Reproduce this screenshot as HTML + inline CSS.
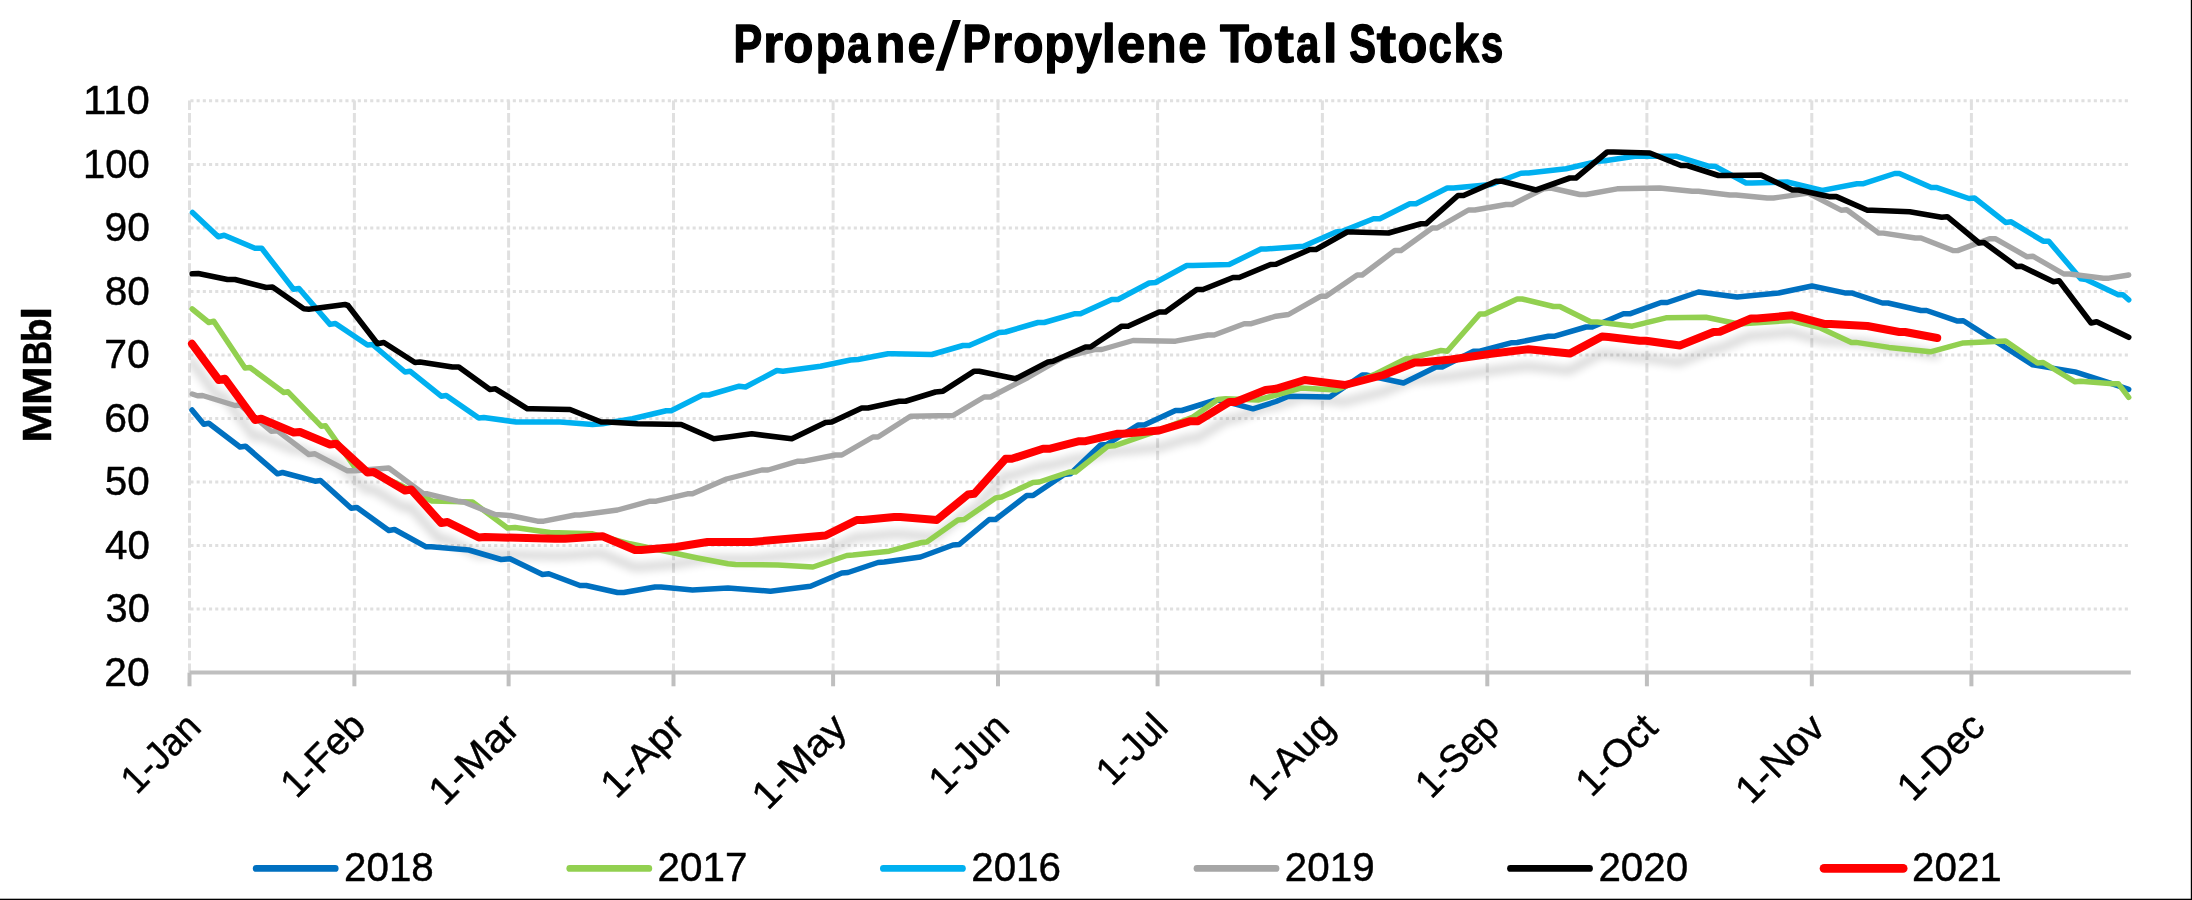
<!DOCTYPE html>
<html><head><meta charset="utf-8"><title>Propane/Propylene Total Stocks</title>
<style>html,body{margin:0;padding:0;background:#fff;}body{width:2192px;height:900px;overflow:hidden;font-family:"Liberation Sans",sans-serif;}svg{display:block;will-change:transform;}text{font-family:"Liberation Sans",sans-serif;stroke:#000;stroke-width:0.45px;stroke-linejoin:round;}</style></head><body>
<svg width="2192" height="900" viewBox="0 0 2192 900">
<defs><filter id="sh" x="-5%" y="-20%" width="110%" height="160%"><feGaussianBlur in="SourceAlpha" stdDeviation="4.2"/><feOffset dx="-1" dy="16.5" result="b"/><feComponentTransfer><feFuncA type="linear" slope="0.165"/></feComponentTransfer></filter><clipPath id="pc"><rect x="190.5" y="95" width="1945" height="580"/></clipPath></defs>
<rect x="0" y="0" width="2192" height="900" fill="#ffffff"/>
<rect x="2190.8" y="0" width="1.2" height="900" fill="#000"/>
<rect x="0" y="898.7" width="2192" height="1.3" fill="#000"/>
<g stroke="#E0E0E0" stroke-width="3.0" stroke-dasharray="3.1 3.1" fill="none">
<line x1="190.4" y1="609.1" x2="2130.3" y2="609.1"/>
<line x1="190.4" y1="545.5" x2="2130.3" y2="545.5"/>
<line x1="190.4" y1="482.0" x2="2130.3" y2="482.0"/>
<line x1="190.4" y1="418.5" x2="2130.3" y2="418.5"/>
<line x1="190.4" y1="355.0" x2="2130.3" y2="355.0"/>
<line x1="190.4" y1="291.4" x2="2130.3" y2="291.4"/>
<line x1="190.4" y1="227.9" x2="2130.3" y2="227.9"/>
<line x1="190.4" y1="164.4" x2="2130.3" y2="164.4"/>
<line x1="190.4" y1="100.8" x2="2130.3" y2="100.8"/>
</g>
<g stroke="#E0E0E0" stroke-width="3.0" stroke-dasharray="9.38 3.13" fill="none">
<line x1="189.5" y1="100.5" x2="189.5" y2="672.6"/>
<line x1="354.4" y1="100.5" x2="354.4" y2="672.6"/>
<line x1="508.6" y1="100.5" x2="508.6" y2="672.6"/>
<line x1="673.5" y1="100.5" x2="673.5" y2="672.6"/>
<line x1="833.1" y1="100.5" x2="833.1" y2="672.6"/>
<line x1="998.0" y1="100.5" x2="998.0" y2="672.6"/>
<line x1="1157.6" y1="100.5" x2="1157.6" y2="672.6"/>
<line x1="1322.4" y1="100.5" x2="1322.4" y2="672.6"/>
<line x1="1487.3" y1="100.5" x2="1487.3" y2="672.6"/>
<line x1="1646.9" y1="100.5" x2="1646.9" y2="672.6"/>
<line x1="1811.8" y1="100.5" x2="1811.8" y2="672.6"/>
<line x1="1971.4" y1="100.5" x2="1971.4" y2="672.6"/>
</g>
<g stroke="#BFBFBF" stroke-width="4.0" fill="none">
<line x1="189.5" y1="672.6" x2="2130.8" y2="672.6"/>
<line x1="189.5" y1="672.6" x2="189.5" y2="686.3"/>
<line x1="354.4" y1="672.6" x2="354.4" y2="686.3"/>
<line x1="508.6" y1="672.6" x2="508.6" y2="686.3"/>
<line x1="673.5" y1="672.6" x2="673.5" y2="686.3"/>
<line x1="833.1" y1="672.6" x2="833.1" y2="686.3"/>
<line x1="998.0" y1="672.6" x2="998.0" y2="686.3"/>
<line x1="1157.6" y1="672.6" x2="1157.6" y2="686.3"/>
<line x1="1322.4" y1="672.6" x2="1322.4" y2="686.3"/>
<line x1="1487.3" y1="672.6" x2="1487.3" y2="686.3"/>
<line x1="1646.9" y1="672.6" x2="1646.9" y2="686.3"/>
<line x1="1811.8" y1="672.6" x2="1811.8" y2="686.3"/>
<line x1="1971.4" y1="672.6" x2="1971.4" y2="686.3"/>
</g>
<g clip-path="url(#pc)"><path d="M192.0 343.8 L218.8 380.0 L225.0 378.8 L255.0 420.0 L261.2 418.8 L293.8 432.5 L300.0 432.0 L330.0 444.5 L336.2 443.8 L367.5 472.5 L373.8 472.0 L405.0 490.5 L411.2 489.5 L441.2 523.0 L447.5 522.0 L478.8 537.5 L485.0 537.0 L555.0 538.8 L565.0 538.8 L602.5 536.2 L635.0 550.0 L641.2 550.0 L676.2 547.0 L707.5 542.0 L751.8 542.0 L825.5 535.5 L856.8 520.0 L863.0 520.0 L894.2 517.0 L900.5 517.0 L936.8 520.0 L968.0 494.5 L974.2 493.8 L1005.5 458.8 L1011.8 458.8 L1043.0 448.8 L1049.2 448.8 L1079.2 441.2 L1085.5 441.2 L1116.8 433.8 L1123.0 433.8 L1159.2 430.5 L1190.5 421.2 L1198.0 421.2 L1229.2 402.0 L1235.5 402.0 L1265.5 390.0 L1276.0 388.8 L1304.8 380.0 L1344.8 385.0 L1383.5 375.0 L1414.8 362.5 L1421.0 362.5 L1451.0 359.5 L1491.0 353.8 L1528.5 349.2 L1569.8 353.6 L1602.0 336.5 L1608.5 337.0 L1639.8 340.7 L1646.0 340.7 L1679.8 345.5 L1713.5 332.0 L1719.8 331.8 L1751.0 318.5 L1757.2 318.5 L1792.2 315.3 L1825.1 324.1 L1830.7 324.1 L1867.4 326.0 L1899.4 332.0 L1905.0 332.0 L1937.2 338.0" fill="none" stroke="#000" stroke-width="8.0" stroke-linejoin="round" stroke-linecap="round" filter="url(#sh)"/></g>
<path d="M192.0 410.0 L203.8 424.2 L208.8 423.2 L240.0 447.0 L245.5 446.2 L277.5 473.8 L282.5 472.5 L315.0 481.2 L320.5 480.5 L351.2 508.2 L357.0 507.5 L388.8 530.5 L394.5 529.5 L426.2 546.8 L431.2 546.8 L468.8 550.0 L501.2 559.5 L510.0 558.8 L542.5 574.5 L548.8 573.8 L580.0 585.5 L586.2 585.5 L617.5 592.5 L623.8 592.5 L655.0 587.0 L661.2 587.0 L692.5 590.0 L728.0 588.0 L770.5 591.2 L810.5 586.2 L841.8 573.0 L848.0 572.5 L878.0 562.5 L884.2 562.0 L920.5 557.0 L953.0 545.0 L959.2 544.5 L989.2 519.5 L995.5 519.5 L1026.8 495.5 L1033.0 495.5 L1064.2 474.5 L1070.5 473.8 L1100.5 445.0 L1106.8 444.5 L1138.0 425.0 L1144.2 425.0 L1175.5 410.5 L1181.8 410.5 L1214.2 400.5 L1220.5 400.0 L1253.0 408.8 L1276.0 401.5 L1288.5 396.2 L1329.8 397.0 L1362.2 375.0 L1366.0 375.0 L1403.5 383.0 L1436.0 367.0 L1442.2 367.0 L1473.5 351.2 L1479.8 351.2 L1511.0 342.8 L1517.2 342.5 L1548.5 336.2 L1554.8 336.2 L1586.0 327.0 L1592.2 327.0 L1623.5 313.8 L1629.8 313.8 L1661.0 302.5 L1667.2 302.5 L1698.5 292.0 L1737.2 297.0 L1778.5 293.0 L1812.0 286.0 L1844.8 292.9 L1851.4 292.9 L1882.4 303.0 L1888.0 303.0 L1921.0 310.5 L1926.6 310.5 L1957.6 321.1 L1963.3 320.8 L2032.8 364.9 L2075.1 371.9 L2108.0 382.4 L2128.7 389.4" fill="none" stroke="#0070C0" stroke-width="5.5" stroke-linejoin="round" stroke-linecap="round"/>
<path d="M192.2 309.0 L208.8 322.5 L213.8 321.2 L245.0 368.0 L250.0 367.5 L283.8 392.5 L288.0 391.8 L321.2 426.2 L325.5 425.8 L355.0 467.5 L360.0 468.0 L395.0 482.5 L432.0 501.0 L472.5 502.0 L507.5 528.0 L515.0 527.5 L550.0 532.5 L592.5 533.8 L630.0 543.8 L697.5 558.0 L728.0 563.8 L735.5 564.5 L778.0 565.0 L813.0 567.0 L846.8 555.5 L853.0 555.0 L889.2 551.2 L921.8 542.5 L926.8 542.0 L958.0 520.0 L964.2 519.5 L995.5 498.0 L1001.8 497.0 L1033.0 482.5 L1039.2 482.0 L1069.2 472.0 L1075.5 472.0 L1108.0 446.2 L1114.2 445.8 L1153.0 432.5 L1193.0 417.0 L1218.0 399.5 L1225.5 398.8 L1258.0 400.0 L1276.0 395.0 L1301.0 388.0 L1336.0 390.0 L1376.0 373.8 L1406.0 358.8 L1411.0 358.2 L1441.0 350.5 L1447.2 351.2 L1479.8 314.0 L1484.8 314.0 L1517.2 299.0 L1522.2 299.0 L1553.5 306.5 L1559.8 306.5 L1591.0 322.0 L1597.2 322.0 L1632.2 326.2 L1666.0 317.8 L1706.0 317.2 L1738.5 324.0 L1791.3 320.4 L1820.4 327.9 L1851.4 342.4 L1856.1 342.4 L1889.0 347.4 L1930.4 351.8 L1963.3 342.9 L2005.6 341.0 L2037.5 363.0 L2043.2 362.5 L2075.1 381.8 L2080.7 381.3 L2112.7 383.7 L2118.3 383.7 L2128.7 397.4" fill="none" stroke="#92D050" stroke-width="5.5" stroke-linejoin="round" stroke-linecap="round"/>
<path d="M192.5 212.5 L218.3 236.7 L224.2 235.3 L255.0 248.3 L261.7 248.3 L293.5 289.3 L299.0 288.5 L330.0 324.4 L335.4 323.5 L367.5 345.0 L372.5 344.5 L405.0 372.0 L410.0 371.2 L441.2 396.2 L446.2 395.5 L478.8 418.0 L483.8 417.5 L516.2 422.0 L560.0 422.0 L592.5 424.5 L602.5 423.8 L632.5 418.8 L666.2 410.8 L671.2 410.8 L702.5 395.0 L708.8 395.0 L739.2 386.2 L745.5 387.0 L776.8 370.5 L783.0 371.2 L820.5 366.2 L850.5 360.0 L858.0 359.5 L888.0 353.8 L893.0 353.8 L931.8 354.5 L963.0 345.5 L969.2 345.5 L999.2 332.5 L1005.5 332.0 L1038.0 322.5 L1044.2 322.5 L1074.2 313.8 L1080.5 313.8 L1111.8 299.5 L1118.0 299.5 L1149.2 283.0 L1155.5 282.5 L1186.8 265.5 L1193.0 265.5 L1229.2 264.5 L1261.0 249.0 L1266.0 249.0 L1303.5 246.2 L1336.0 232.0 L1342.2 231.2 L1373.5 218.8 L1379.8 218.8 L1409.8 203.8 L1416.0 203.8 L1447.2 188.0 L1453.5 188.0 L1491.0 184.5 L1521.0 173.2 L1528.5 173.0 L1566.0 168.8 L1598.5 161.2 L1604.8 160.8 L1634.8 156.2 L1676.0 156.2 L1708.5 166.2 L1714.8 166.2 L1746.0 183.0 L1752.2 183.0 L1787.2 182.0 L1822.3 190.4 L1857.0 183.8 L1862.7 183.8 L1894.7 173.5 L1899.4 173.5 L1931.3 187.6 L1937.0 187.6 L1968.9 198.5 L1974.5 198.0 L2005.6 222.4 L2011.2 221.8 L2043.2 241.2 L2048.8 241.2 L2080.7 278.8 L2086.0 279.5 L2118.3 294.7 L2123.0 294.7 L2128.7 299.8" fill="none" stroke="#00B0F0" stroke-width="5.5" stroke-linejoin="round" stroke-linecap="round"/>
<path d="M192.2 394.0 L197.5 395.8 L202.5 395.5 L235.0 405.5 L240.0 405.0 L271.2 431.2 L277.5 430.8 L308.8 454.5 L315.0 453.8 L347.5 470.8 L355.0 470.8 L388.8 468.0 L423.8 493.8 L427.5 493.8 L457.5 501.2 L463.8 502.0 L495.0 514.5 L510.0 515.5 L537.5 521.2 L543.8 521.2 L575.0 515.0 L580.0 515.0 L617.5 510.0 L650.0 501.2 L656.2 501.2 L687.5 493.8 L692.5 493.8 L726.5 479.0 L761.8 470.0 L768.0 470.0 L798.0 461.2 L804.2 461.2 L835.5 455.0 L841.8 455.0 L873.0 437.0 L878.0 437.0 L910.5 416.2 L953.0 415.5 L984.2 397.0 L990.5 397.0 L1028.0 377.5 L1063.0 357.5 L1095.5 349.5 L1101.8 349.5 L1133.0 340.5 L1175.5 341.2 L1208.0 335.0 L1214.2 335.0 L1244.2 323.8 L1250.5 323.8 L1276.0 316.2 L1288.5 314.5 L1321.0 296.2 L1326.0 296.2 L1357.2 275.0 L1362.2 275.0 L1394.8 250.5 L1401.0 250.5 L1432.2 228.0 L1437.2 228.0 L1468.5 210.0 L1474.8 210.0 L1506.0 204.5 L1512.2 204.5 L1543.5 188.8 L1551.0 188.0 L1579.8 194.5 L1586.0 194.5 L1617.2 188.8 L1659.8 188.0 L1692.2 191.2 L1698.5 191.2 L1729.8 195.0 L1736.0 195.0 L1767.2 198.0 L1773.5 198.0 L1808.2 193.2 L1841.1 210.2 L1846.7 209.8 L1878.7 233.1 L1883.4 233.1 L1915.3 238.0 L1921.0 238.0 L1952.9 250.6 L1957.6 250.6 L1989.6 238.7 L1995.2 238.7 L2027.2 256.8 L2032.8 256.2 L2063.8 274.0 L2069.5 274.0 L2103.3 278.2 L2109.0 278.2 L2128.7 275.0" fill="none" stroke="#A6A6A6" stroke-width="5.4" stroke-linejoin="round" stroke-linecap="round"/>
<path d="M192.2 273.8 L198.3 273.5 L227.5 279.5 L235.0 279.5 L266.2 287.5 L272.5 287.0 L303.8 308.8 L308.8 309.2 L345.0 304.5 L348.0 305.5 L377.5 343.8 L383.8 342.5 L415.0 362.5 L420.0 362.0 L452.5 367.0 L458.8 367.0 L490.0 389.5 L495.5 388.8 L527.5 408.8 L532.5 408.8 L570.0 409.5 L601.2 422.0 L607.5 422.0 L637.5 423.8 L681.2 424.5 L713.8 438.8 L728.0 437.0 L751.8 433.8 L791.8 438.8 L825.5 422.5 L831.8 422.0 L861.8 408.0 L868.0 408.0 L899.2 401.2 L905.5 401.2 L935.5 392.0 L943.0 391.2 L974.2 371.2 L979.2 371.2 L1015.5 378.8 L1048.0 362.0 L1053.0 361.2 L1085.5 347.0 L1090.5 347.0 L1121.8 326.2 L1128.0 326.2 L1159.2 312.0 L1165.5 312.0 L1196.8 289.5 L1203.0 289.5 L1233.0 277.5 L1239.2 277.5 L1270.5 264.5 L1276.0 264.3 L1309.8 249.5 L1316.0 249.5 L1347.2 232.0 L1353.5 232.0 L1388.5 233.0 L1421.0 223.8 L1426.0 223.8 L1458.0 195.5 L1463.5 195.5 L1496.0 181.2 L1502.2 181.2 L1536.0 190.0 L1569.8 178.0 L1576.0 178.0 L1607.2 152.0 L1613.5 152.0 L1649.8 153.0 L1681.0 165.5 L1687.2 165.5 L1718.5 175.5 L1724.8 175.5 L1761.0 175.0 L1792.2 190.0 L1798.5 190.0 L1828.9 196.6 L1836.4 196.6 L1867.4 210.2 L1872.0 210.2 L1909.7 211.7 L1941.7 217.3 L1947.3 216.7 L1979.2 243.0 L1984.0 242.5 L2016.8 266.5 L2021.5 266.2 L2053.5 281.8 L2059.1 280.8 L2091.1 323.0 L2096.7 321.7 L2128.7 337.3" fill="none" stroke="#000000" stroke-width="5.6" stroke-linejoin="round" stroke-linecap="round"/>
<path d="M192.0 343.8 L218.8 380.0 L225.0 378.8 L255.0 420.0 L261.2 418.8 L293.8 432.5 L300.0 432.0 L330.0 444.5 L336.2 443.8 L367.5 472.5 L373.8 472.0 L405.0 490.5 L411.2 489.5 L441.2 523.0 L447.5 522.0 L478.8 537.5 L485.0 537.0 L555.0 538.8 L565.0 538.8 L602.5 536.2 L635.0 550.0 L641.2 550.0 L676.2 547.0 L707.5 542.0 L751.8 542.0 L825.5 535.5 L856.8 520.0 L863.0 520.0 L894.2 517.0 L900.5 517.0 L936.8 520.0 L968.0 494.5 L974.2 493.8 L1005.5 458.8 L1011.8 458.8 L1043.0 448.8 L1049.2 448.8 L1079.2 441.2 L1085.5 441.2 L1116.8 433.8 L1123.0 433.8 L1159.2 430.5 L1190.5 421.2 L1198.0 421.2 L1229.2 402.0 L1235.5 402.0 L1265.5 390.0 L1276.0 388.8 L1304.8 380.0 L1344.8 385.0 L1383.5 375.0 L1414.8 362.5 L1421.0 362.5 L1451.0 359.5 L1491.0 353.8 L1528.5 349.2 L1569.8 353.6 L1602.0 336.5 L1608.5 337.0 L1639.8 340.7 L1646.0 340.7 L1679.8 345.5 L1713.5 332.0 L1719.8 331.8 L1751.0 318.5 L1757.2 318.5 L1792.2 315.3 L1825.1 324.1 L1830.7 324.1 L1867.4 326.0 L1899.4 332.0 L1905.0 332.0 L1937.2 338.0" fill="none" stroke="#FF0000" stroke-width="8.0" stroke-linejoin="round" stroke-linecap="round"/>
<text transform="translate(733.40,61.90) scale(0.8061,1)" font-size="53.30" font-weight="bold" fill="#000" style="stroke-width:1.4px">P</text>
<text transform="translate(763.37,61.90) scale(0.9547,1)" font-size="53.30" font-weight="bold" fill="#000" style="stroke-width:1.4px">r</text>
<text transform="translate(783.47,61.90) scale(0.9169,1)" font-size="53.30" font-weight="bold" fill="#000" style="stroke-width:1.4px">o</text>
<text transform="translate(815.60,61.90) scale(0.9251,1)" font-size="53.30" font-weight="bold" fill="#000" style="stroke-width:1.4px">p</text>
<text transform="translate(847.31,61.90) scale(0.7760,1)" font-size="53.30" font-weight="bold" fill="#000" style="stroke-width:1.4px">a</text>
<text transform="translate(875.38,61.90) scale(0.9149,1)" font-size="53.30" font-weight="bold" fill="#000" style="stroke-width:1.4px">n</text>
<text transform="translate(907.55,61.90) scale(0.9391,1)" font-size="53.30" font-weight="bold" fill="#000" style="stroke-width:1.4px">e</text>
<polygon points="935.6,70.8 943.6,70.8 960.9,20.1 952.9,20.1" fill="#000"/>
<text transform="translate(962.44,61.90) scale(0.7936,1)" font-size="53.30" font-weight="bold" fill="#000" style="stroke-width:1.4px">P</text>
<text transform="translate(992.24,61.90) scale(0.9547,1)" font-size="53.30" font-weight="bold" fill="#000" style="stroke-width:1.4px">r</text>
<text transform="translate(1013.32,61.90) scale(0.9302,1)" font-size="53.30" font-weight="bold" fill="#000" style="stroke-width:1.4px">o</text>
<text transform="translate(1044.36,61.90) scale(0.9204,1)" font-size="53.30" font-weight="bold" fill="#000" style="stroke-width:1.4px">p</text>
<text transform="translate(1074.94,61.90) scale(0.9044,1)" font-size="53.30" font-weight="bold" fill="#000" style="stroke-width:1.4px">y</text>
<text transform="translate(1102.10,61.90) scale(0.9244,1)" font-size="53.30" font-weight="bold" fill="#000" style="stroke-width:1.4px">l</text>
<text transform="translate(1117.02,61.90) scale(0.9536,1)" font-size="53.30" font-weight="bold" fill="#000" style="stroke-width:1.4px">e</text>
<text transform="translate(1146.47,61.90) scale(0.9245,1)" font-size="53.30" font-weight="bold" fill="#000" style="stroke-width:1.4px">n</text>
<text transform="translate(1178.27,61.90) scale(0.9536,1)" font-size="53.30" font-weight="bold" fill="#000" style="stroke-width:1.4px">e</text>
<text transform="translate(1219.93,61.90) scale(0.8920,1)" font-size="53.30" font-weight="bold" fill="#000" style="stroke-width:1.4px">T</text>
<text transform="translate(1243.51,61.90) scale(0.9111,1)" font-size="53.30" font-weight="bold" fill="#000" style="stroke-width:1.4px">o</text>
<text transform="translate(1274.84,61.90) scale(1.0768,1)" font-size="53.30" font-weight="bold" fill="#000" style="stroke-width:1.4px">t</text>
<text transform="translate(1296.20,61.90) scale(0.7810,1)" font-size="53.30" font-weight="bold" fill="#000" style="stroke-width:1.4px">a</text>
<text transform="translate(1322.98,61.90) scale(0.9703,1)" font-size="53.30" font-weight="bold" fill="#000" style="stroke-width:1.4px">l</text>
<text transform="translate(1349.21,61.90) scale(0.7519,1)" font-size="53.30" font-weight="bold" fill="#000" style="stroke-width:1.4px">S</text>
<text transform="translate(1376.79,61.90) scale(1.0852,1)" font-size="53.30" font-weight="bold" fill="#000" style="stroke-width:1.4px">t</text>
<text transform="translate(1397.46,61.90) scale(0.9160,1)" font-size="53.30" font-weight="bold" fill="#000" style="stroke-width:1.4px">o</text>
<text transform="translate(1428.53,61.90) scale(0.7846,1)" font-size="53.30" font-weight="bold" fill="#000" style="stroke-width:1.4px">c</text>
<text transform="translate(1453.39,61.90) scale(0.8636,1)" font-size="53.30" font-weight="bold" fill="#000" style="stroke-width:1.4px">k</text>
<text transform="translate(1480.79,61.90) scale(0.7594,1)" font-size="53.30" font-weight="bold" fill="#000" style="stroke-width:1.4px">s</text>
<text transform="translate(104.36,685.80) scale(0.9851,1)" font-size="41.50" fill="#000">20</text>
<text transform="translate(105.51,622.27) scale(0.9592,1)" font-size="41.50" fill="#000">30</text>
<text transform="translate(104.99,558.74) scale(0.9707,1)" font-size="41.50" fill="#000">40</text>
<text transform="translate(104.78,495.21) scale(0.9755,1)" font-size="41.50" fill="#000">50</text>
<text transform="translate(104.36,431.68) scale(0.9851,1)" font-size="41.50" fill="#000">60</text>
<text transform="translate(104.25,368.15) scale(0.9875,1)" font-size="41.50" fill="#000">70</text>
<text transform="translate(104.68,304.62) scale(0.9779,1)" font-size="41.50" fill="#000">80</text>
<text transform="translate(104.46,241.09) scale(0.9827,1)" font-size="41.50" fill="#000">90</text>
<text transform="translate(83.00,177.56) scale(0.9639,1)" font-size="41.50" fill="#000">100</text>
<text transform="translate(83.06,114.03) scale(1.0094,1)" font-size="41.50" fill="#000">110</text>
<text transform="translate(50.9,442.89) rotate(-90) scale(1.1625,1)" font-size="40.70" font-weight="bold" fill="#000">M</text>
<text transform="translate(50.9,405.17) rotate(-90) scale(1.1554,1)" font-size="40.70" font-weight="bold" fill="#000">M</text>
<text transform="translate(50.9,365.27) rotate(-90) scale(0.8257,1)" font-size="40.70" font-weight="bold" fill="#000">B</text>
<text transform="translate(50.9,342.24) rotate(-90) scale(0.9585,1)" font-size="40.70" font-weight="bold" fill="#000">b</text>
<text transform="translate(50.9,320.11) rotate(-90) scale(1.1972,1)" font-size="40.70" font-weight="bold" fill="#000">l</text>
<text class="xl" transform="translate(202.90,729.40) rotate(-45) scale(0.9594,1)" text-anchor="end" font-size="39" fill="#000">1-Jan</text>
<text class="xl" transform="translate(367.79,728.40) rotate(-45) scale(0.9889,1)" text-anchor="end" font-size="39" fill="#000">1-Feb</text>
<text class="xl" transform="translate(521.64,730.00) rotate(-45) scale(1.0697,1)" text-anchor="end" font-size="39" fill="#000">1-Mar</text>
<text class="xl" transform="translate(686.53,730.00) rotate(-45) scale(1.0371,1)" text-anchor="end" font-size="39" fill="#000">1-Apr</text>
<text class="xl" transform="translate(848.90,730.00) rotate(-45) scale(1.0593,1)" text-anchor="end" font-size="39" fill="#000">1-May</text>
<text class="xl" transform="translate(1011.39,729.60) rotate(-45) scale(0.9665,1)" text-anchor="end" font-size="39" fill="#000">1-Jun</text>
<text class="xl" transform="translate(1169.96,729.20) rotate(-45) scale(0.9720,1)" text-anchor="end" font-size="39" fill="#000">1-Jul</text>
<text class="xl" transform="translate(1336.85,729.00) rotate(-45) scale(1.0008,1)" text-anchor="end" font-size="39" fill="#000">1-Aug</text>
<text class="xl" transform="translate(1501.34,729.60) rotate(-45) scale(0.9538,1)" text-anchor="end" font-size="39" fill="#000">1-Sep</text>
<text class="xl" transform="translate(1659.71,730.00) rotate(-45) scale(1.0110,1)" text-anchor="end" font-size="39" fill="#000">1-Oct</text>
<text class="xl" transform="translate(1826.80,730.00) rotate(-45) scale(1.0273,1)" text-anchor="end" font-size="39" fill="#000">1-Nov</text>
<text class="xl" transform="translate(1986.97,728.80) rotate(-45) scale(1.0053,1)" text-anchor="end" font-size="39" fill="#000">1-Dec</text>
<line x1="256.2" y1="868.4" x2="335.2" y2="868.4" stroke="#0070C0" stroke-width="6.8" stroke-linecap="round"/>
<text transform="translate(343.98,881.00) scale(0.9729,1)" font-size="41.50" fill="#000">2018</text>
<line x1="569.8" y1="868.4" x2="648.8" y2="868.4" stroke="#92D050" stroke-width="6.8" stroke-linecap="round"/>
<text transform="translate(657.58,881.00) scale(0.9729,1)" font-size="41.50" fill="#000">2017</text>
<line x1="883.4" y1="868.4" x2="962.4" y2="868.4" stroke="#00B0F0" stroke-width="6.8" stroke-linecap="round"/>
<text transform="translate(971.18,881.00) scale(0.9729,1)" font-size="41.50" fill="#000">2016</text>
<line x1="1197.0" y1="868.4" x2="1276.0" y2="868.4" stroke="#A6A6A6" stroke-width="6.8" stroke-linecap="round"/>
<text transform="translate(1284.78,881.00) scale(0.9729,1)" font-size="41.50" fill="#000">2019</text>
<line x1="1510.5" y1="868.4" x2="1589.5" y2="868.4" stroke="#000000" stroke-width="6.8" stroke-linecap="round"/>
<text transform="translate(1598.38,881.00) scale(0.9729,1)" font-size="41.50" fill="#000">2020</text>
<line x1="1824.1" y1="868.4" x2="1903.1" y2="868.4" stroke="#FF0000" stroke-width="8.9" stroke-linecap="round"/>
<text transform="translate(1911.98,881.00) scale(0.9729,1)" font-size="41.50" fill="#000">2021</text>
</svg></body></html>
